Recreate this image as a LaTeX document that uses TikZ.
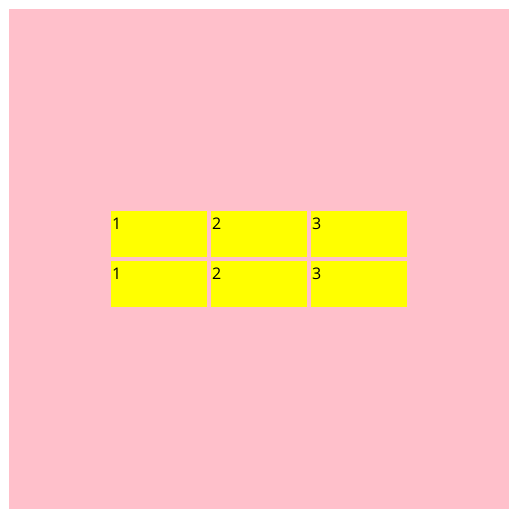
\documentclass[tikz,border=0pt]{standalone}
\usepackage{fontspec}
\setmainfont{Open Sans}
\definecolor{cpink}{HTML}{FFC0CB}
\definecolor{cyel}{HTML}{FFFF00}
\begin{document}
\begin{tikzpicture}[x=1pt,y=-1pt,
  cell/.style={fill=cyel,draw=none,minimum width=96pt,minimum height=46pt,inner sep=0pt,anchor=north west},
  lbl/.style={inner sep=0pt,anchor=base west,font=\fontsize{16}{19}\selectfont}]
\useasboundingbox (0,0) rectangle (520,519);
\fill[white] (0,0) rectangle (520,519);
\fill[cpink] (9,9) rectangle (509,509);
\foreach \r/\y in {1/211,2/261}{
  \foreach \c/\x in {1/111,2/211,3/311}{
    \node[cell] (c\r\c) at (\x,\y) {};
    \node[lbl] (t\r\c) at (\x+1,\y+18) {\c};
  }
}
\end{tikzpicture}
\end{document}
